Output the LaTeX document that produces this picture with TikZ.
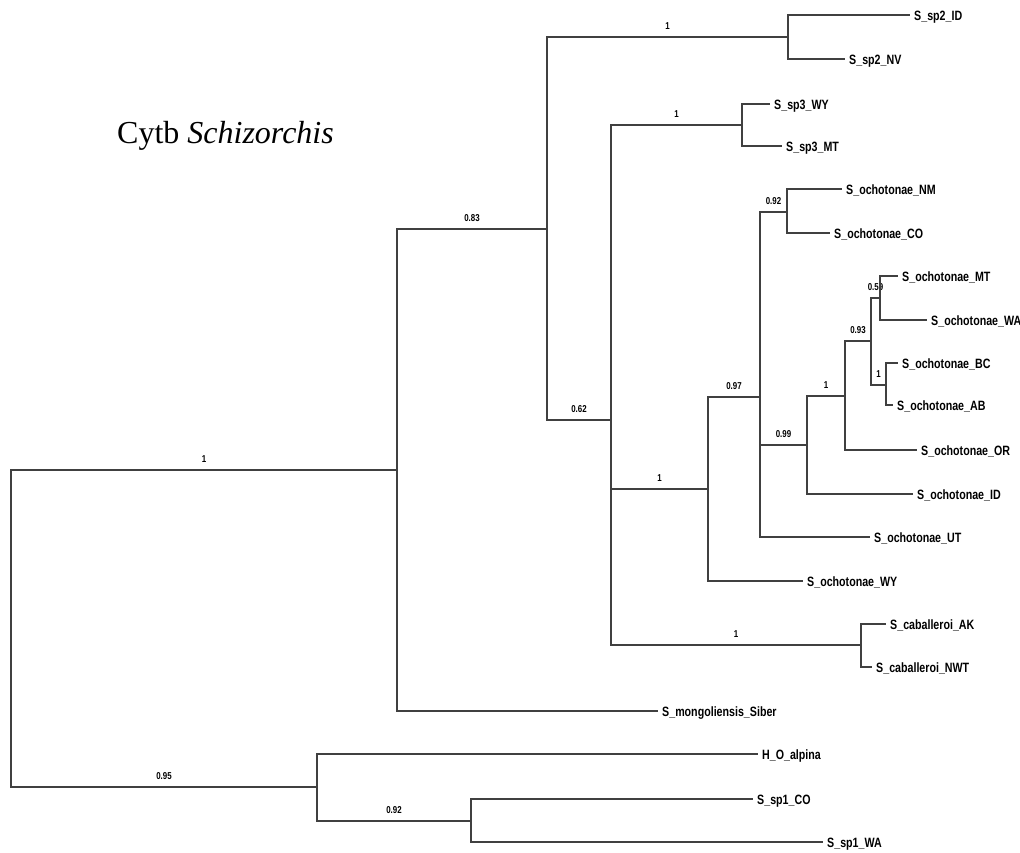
\documentclass[tikz,border=0pt]{standalone}
\usepackage{fontspec}
\setmainfont{Liberation Serif}
\newfontfamily\treefont[FakeStretch=0.79]{Liberation Sans}
\tikzset{
  branch/.style={draw=black!75, line width=1.2pt},
  leaf/.style={anchor=west, inner xsep=4pt, inner ysep=0pt, text height=11.4pt, text depth=0pt,
    font=\treefont\bfseries\fontsize{13.5}{15}\selectfont},
  support/.style={pos=0.75, anchor=base, yshift=7.5pt, inner sep=0pt,
    font=\treefont\bfseries\fontsize{10}{11}\selectfont}
}
\begin{document}
\begin{tikzpicture}[x=1pt, y=-1pt]
  \useasboundingbox (0,0) rectangle (1020,852);
  \node[anchor=base west, inner sep=0pt, font=\fontsize{32}{36}\selectfont] (title) at (117,143) {Cytb \textit{Schizorchis}};
  % internal nodes
  \coordinate (root) at (11,628);
  \coordinate (a) at (397,470);
  \coordinate (o) at (317,787);
  \coordinate (b) at (547,229);
  \coordinate (c) at (788,37);
  \coordinate (d) at (611,420);
  \coordinate (e) at (742,125);
  \coordinate (f) at (708,489);
  \coordinate (n) at (861,645);
  \coordinate (g) at (760,397);
  \coordinate (h) at (787,212);
  \coordinate (i) at (807,445);
  \coordinate (j) at (845,396);
  \coordinate (k) at (871,341);
  \coordinate (l) at (880,298);
  \coordinate (m) at (886,385);
  \coordinate (p) at (471,821);
  % tips
  \node[leaf] (sp2id) at (910,15) {S\_sp2\_ID};
  \node[leaf] (sp2nv) at (845,59) {S\_sp2\_NV};
  \node[leaf] (sp3wy) at (770,104) {S\_sp3\_WY};
  \node[leaf] (sp3mt) at (782,146) {S\_sp3\_MT};
  \node[leaf] (ochnm) at (842,189) {S\_ochotonae\_NM};
  \node[leaf] (ochco) at (830,233) {S\_ochotonae\_CO};
  \node[leaf] (ochmt) at (898,276) {S\_ochotonae\_MT};
  \node[leaf] (ochwa) at (927,320) {S\_ochotonae\_WA};
  \node[leaf] (ochbc) at (898,363) {S\_ochotonae\_BC};
  \node[leaf] (ochab) at (893,405) {S\_ochotonae\_AB};
  \node[leaf] (ochor) at (917,450) {S\_ochotonae\_OR};
  \node[leaf] (ochid) at (913,494) {S\_ochotonae\_ID};
  \node[leaf] (ochut) at (870,537) {S\_ochotonae\_UT};
  \node[leaf] (ochwy) at (803,581) {S\_ochotonae\_WY};
  \node[leaf] (cabak) at (886,624) {S\_caballeroi\_AK};
  \node[leaf] (cabnwt) at (872,667) {S\_caballeroi\_NWT};
  \node[leaf] (mong) at (658,711) {S\_mongoliensis\_Siber};
  \node[leaf] (alpina) at (758,754) {H\_O\_alpina};
  \node[leaf] (sp1co) at (753,799) {S\_sp1\_CO};
  \node[leaf] (sp1wa) at (823,842) {S\_sp1\_WA};
  % branches
  \draw[branch] (root) |- (a) node[support] {1};
  \draw[branch] (root) |- (o) node[support] {0.95};
  \draw[branch] (a) |- (b) node[support] {0.83};
  \draw[branch] (a) |- (mong.west);
  \draw[branch] (b) |- (c) node[support] {1};
  \draw[branch] (b) |- (d) node[support] {0.62};
  \draw[branch] (c) |- (sp2id.west);
  \draw[branch] (c) |- (sp2nv.west);
  \draw[branch] (d) |- (e) node[support] {1};
  \draw[branch] (d) |- (f) node[support] {1};
  \draw[branch] (d) |- (n) node[support] {1};
  \draw[branch] (e) |- (sp3wy.west);
  \draw[branch] (e) |- (sp3mt.west);
  \draw[branch] (f) |- (g) node[support] {0.97};
  \draw[branch] (f) |- (ochwy.west);
  \draw[branch] (g) |- (h) node[support] {0.92};
  \draw[branch] (g) |- (i) node[support] {0.99};
  \draw[branch] (g) |- (ochut.west);
  \draw[branch] (h) |- (ochnm.west);
  \draw[branch] (h) |- (ochco.west);
  \draw[branch] (i) |- (j) node[support] {1};
  \draw[branch] (i) |- (ochid.west);
  \draw[branch] (j) |- (k) node[support] {0.93};
  \draw[branch] (j) |- (ochor.west);
  \draw[branch] (k) |- (l) node[support] {0.59};
  \draw[branch] (k) |- (m) node[support] {1};
  \draw[branch] (l) |- (ochmt.west);
  \draw[branch] (l) |- (ochwa.west);
  \draw[branch] (m) |- (ochbc.west);
  \draw[branch] (m) |- (ochab.west);
  \draw[branch] (n) |- (cabak.west);
  \draw[branch] (n) |- (cabnwt.west);
  \draw[branch] (o) |- (alpina.west);
  \draw[branch] (o) |- (p) node[support] {0.92};
  \draw[branch] (p) |- (sp1co.west);
  \draw[branch] (p) |- (sp1wa.west);
\end{tikzpicture}
\end{document}
